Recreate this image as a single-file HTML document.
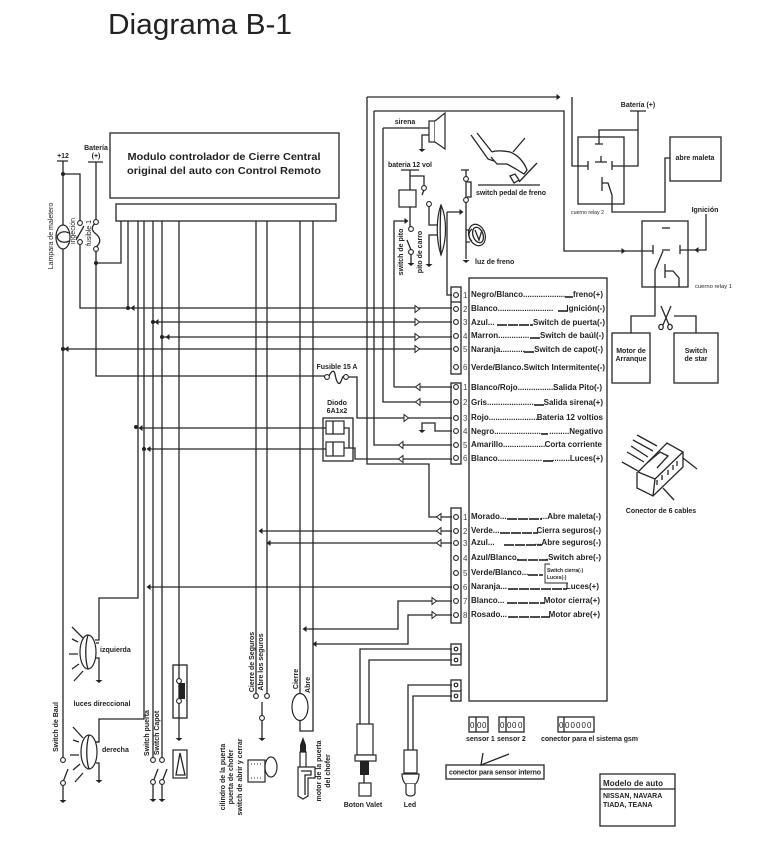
<!DOCTYPE html>
<html><head><meta charset="utf-8"><style>
html,body{margin:0;padding:0;background:#fff}
svg{display:block}
text{font-family:"Liberation Sans",sans-serif;fill:#222}
.b{font-weight:bold;font-size:8px}
.m{font-weight:bold;font-size:7px}
.n{font-size:8px;fill:#444}
.e{text-anchor:end}
.c{text-anchor:middle}
.w{fill:none;stroke:#262626;stroke-width:1.3}
.d{fill:none;stroke:#111;stroke-width:1.6;stroke-dasharray:10 1}
.p{fill:#fff;stroke:#262626;stroke-width:1.2}
.f{fill:#222;stroke:none}
</style></head><body>
<svg width="766" height="857" viewBox="0 0 766 857" xmlns="http://www.w3.org/2000/svg">
<defs>
<path id="ar" d="M-2,-3.5 L2.5,0 L-2,3.5 Z" fill="#fff" stroke="#262626" stroke-width="1"/>
<path id="al" d="M2,-3.5 L-2.5,0 L2,3.5 Z" fill="#fff" stroke="#262626" stroke-width="1"/>
<path id="sl" d="M-2.5,0 L1.5,-3 L1.5,3 Z" fill="#222"/>
<path id="sr" d="M2.5,0 L-1.5,-3 L-1.5,3 Z" fill="#222"/>
<path id="g" d="M-3.5,0 L3.5,0 L0,3 Z" fill="#222"/>
<circle id="o" r="2.4" fill="#fff" stroke="#262626" stroke-width="1.1"/>
<circle id="k" r="2" fill="#222"/>
</defs>
<text x="108" y="34" style="font-size:29px;fill:#222" textLength="184" lengthAdjust="spacingAndGlyphs">Diagrama B-1</text>

<!-- module -->
<rect x="110" y="133" width="229" height="65" class="w"/>
<rect x="116" y="204" width="220" height="17" class="w"/>
<text x="224" y="160" class="c" style="font-weight:bold;font-size:10px" textLength="193" lengthAdjust="spacingAndGlyphs">Modulo controlador de Cierre Central</text>
<text x="224" y="174" class="c" style="font-weight:bold;font-size:10px" textLength="194" lengthAdjust="spacingAndGlyphs">original del auto con Control Remoto</text>

<!-- left wires -->
<g class="w">
<path d="M57,161H68M63,161V760"/>
<path d="M63,174H80V221M80,244V308H452"/>
<path d="M76,240L84,226"/>
<path d="M88,162H103M96,162V220"/>
<path d="M96,222C91,227 91,230 96,234C101,238 101,243 96,247"/>
<path d="M96,251V376H325"/>
<path d="M121,221V263H96"/>
<path d="M128,221V308"/>
<path d="M138,221V598H99V640H95"/>
<path d="M144,221V719H99V742H95"/>
<path d="M153,221V758M162,221V758"/>
<path d="M153,322H452M162,337H452M63,349H452"/>
<path d="M179,221V738"/>
<path d="M256,221V694M267,221V694"/>
<path d="M300,221V693M313,221V731H300V720"/>
<path d="M141,428H326M149,449H326"/>
</g>
<use href="#k" x="128" y="308"/><use href="#sl" x="133" y="308"/>
<use href="#k" x="153" y="322"/><use href="#sl" x="157" y="322"/>
<use href="#k" x="162" y="337"/><use href="#sl" x="168" y="337"/>
<use href="#k" x="63" y="349"/><use href="#sl" x="67" y="349"/>
<use href="#k" x="136" y="427"/><use href="#sl" x="141" y="428"/>
<use href="#k" x="144" y="449"/><use href="#sl" x="149" y="449"/>
<use href="#k" x="63" y="174"/><use href="#k" x="96" y="263"/>
<use href="#o" x="80" y="223"/><use href="#o" x="80" y="242"/>
<use href="#o" x="96" y="222"/><use href="#o" x="96" y="249"/>
<ellipse cx="63" cy="237" rx="7" ry="12" class="p"/>
<path d="M57,237C59,231 65,231 69,233M57,237C59,243 65,243 69,241" class="w"/>
<text x="63" y="158" class="m c">+12</text>
<text x="96" y="150" class="m c">Batería</text>
<text x="96" y="158" class="m c">(+)</text>
<text transform="translate(53,236) rotate(-90)" class="c" style="font-size:7px">Lampara de maletero</text>
<text transform="translate(75,231) rotate(-90)" class="c" style="font-size:7px">ingeción</text>
<text transform="translate(91,233) rotate(-90)" class="c" style="font-size:7px">fusible 1</text>

<!-- lens bottom left -->
<g class="w">
<path d="M96,643H99M95,658H99V680"/>
<path d="M72,627L83,638M72,639L78,642M69,654L78,654M72,669L79,664M74,681L83,671"/>
<path d="M95,742H99M96,763H99V780"/>
<path d="M73,727L83,738M73,740L79,742M70,755L79,755M73,770L80,764M75,782L83,773"/>
<path d="M68,769L63,782M63,784V800"/>
<path d="M158,769L153,782M153,784V799M167,769L162,782M162,784V799"/>
<path d="M262,702V738"/>
</g>
<ellipse cx="88" cy="652" rx="8" ry="17" class="p"/><path d="M88,635C85,645 85,660 88,669" class="w"/>
<ellipse cx="89" cy="752" rx="8" ry="17" class="p"/><path d="M89,735C86,745 86,760 89,769" class="w"/>
<use href="#g" x="99" y="680"/><use href="#g" x="99" y="780"/>
<use href="#g" x="63" y="800"/><use href="#g" x="153" y="799"/><use href="#g" x="162" y="799"/>
<use href="#g" x="179" y="738"/><use href="#g" x="262" y="738"/>
<use href="#o" x="63" y="760"/><use href="#o" x="63" y="783"/>
<use href="#o" x="153" y="760"/><use href="#o" x="153" y="782"/>
<use href="#o" x="162" y="760"/><use href="#o" x="162" y="782"/>
<use href="#o" x="256" y="696"/><use href="#o" x="267" y="696"/><use href="#o" x="262" y="718"/>
<text x="100" y="652" class="m">izquierda</text>
<text x="102" y="752" class="m">derecha</text>
<text x="102" y="706" class="m c">luces direccional</text>
<text transform="translate(58,727) rotate(-90)" class="m c">Switch de Baul</text>
<text transform="translate(149,733) rotate(-90)" class="m c">Switch puerta</text>
<text transform="translate(159,733) rotate(-90)" class="m c">Switch Capot</text>
<text transform="translate(254,662) rotate(-90)" class="m c">Cierre de Seguros</text>
<text transform="translate(263,662) rotate(-90)" class="m c">Abre los seguros</text>
<text transform="translate(298,679) rotate(-90)" class="m c">Cierre</text>
<text transform="translate(310,685) rotate(-90)" class="m c">Abre</text>
<ellipse cx="300" cy="707" rx="8" ry="13.5" class="p"/>

<!-- fuse box -->
<rect x="173" y="665" width="14" height="53" class="w"/>
<rect x="179" y="683" width="6" height="16" class="f"/>
<use href="#o" x="179" y="681"/><use href="#o" x="179" y="701"/>
<rect x="173" y="750" width="14" height="28" class="p"/>
<path d="M180,753L176,775H185Z" class="w"/>

<!-- cylinder + motor -->
<rect x="248" y="760" width="17" height="22" class="p"/>
<rect x="265" y="763" width="3" height="9" class="p"/>
<ellipse cx="271" cy="767" rx="6" ry="10" class="p"/>
<path d="M251,764H262M251,778H262" class="w" style="stroke-dasharray:1 2;stroke-width:1"/>
<path d="M303,737L306,745V752H300V745Z" class="f"/>
<path d="M300,752H306V767H300ZM298,767H315V778H308V796L303,799L298,796Z" class="p"/>
<path d="M301,771H311V775H305V795" class="w"/>
<text transform="translate(225,777) rotate(-90)" class="m c">cilindro de la puerta</text>
<text transform="translate(233,777) rotate(-90)" class="m c">puerta de chofer</text>
<text transform="translate(242,777) rotate(-90)" class="m c">switch de abrir y cerrar</text>
<text transform="translate(321,771) rotate(-90)" class="m c">motor de la puerta</text>
<text transform="translate(330,771) rotate(-90)" class="m c">del chofer</text>

<!-- long wires center -->
<g class="w">
<path d="M367,97H558M572,97V166H588"/>
<path d="M374,111H564V251H653"/>
<path d="M367,97V464H429V517H452"/>
<path d="M374,111V445H452"/>
<path d="M383,128V402H452M383,128H429"/>
<path d="M394,387V221H406M394,387H452"/>
<path d="M349,377H357V418H452"/>
<path d="M452,431H435V423H422V430"/>
<path d="M344,428H349V448M344,448H355V459H452"/>
<path d="M447,212V295H452M447,212H460"/>
<path d="M261,531H452M269,543H452M149,587H452"/>
<path d="M305,629H398V601H452M315,644H408V615H452"/>
<path d="M360,724V649H452M369,724V660H452"/>
<path d="M408,750V685H452M413,750V696H452"/>
<path d="M329,376C332,370 334,370 335,374C336,380 338,385 340,383C342,381 342,376 344,376"/>
</g>
<use href="#sr" x="558" y="97"/><use href="#sr" x="623" y="251"/>
<use href="#sr" x="406" y="221"/><use href="#sr" x="461" y="212"/>
<use href="#sl" x="261" y="531"/><use href="#sl" x="269" y="543"/><use href="#sl" x="149" y="587"/>
<use href="#sl" x="305" y="629"/><use href="#sl" x="315" y="644"/>
<use href="#g" x="422" y="430"/>
<use href="#o" x="327" y="377"/><use href="#o" x="346" y="377"/>
<use href="#ar" x="417" y="309"/><use href="#ar" x="417" y="322"/><use href="#ar" x="417" y="337"/><use href="#ar" x="417" y="349"/>
<use href="#al" x="418" y="387"/><use href="#al" x="418" y="402"/><use href="#ar" x="406" y="418"/>
<use href="#al" x="401" y="445"/><use href="#al" x="401" y="459"/>
<use href="#al" x="439" y="517"/><use href="#al" x="439" y="531"/><use href="#al" x="439" y="543"/>
<use href="#ar" x="434" y="601"/><use href="#ar" x="434" y="615"/>
<text x="337" y="369" class="m c">Fusible 15 A</text>
<text x="337" y="405" class="m c">Diodo</text>
<text x="337" y="413" class="m c">6A1x2</text>

<!-- diode -->
<rect x="323" y="418" width="30" height="43" class="w"/>
<rect x="326" y="421" width="18" height="13" class="p"/><path d="M333,421V434" class="w"/>
<rect x="326" y="442" width="18" height="14" class="p"/><path d="M333,442V456" class="w"/>

<!-- speaker etc -->
<rect x="429" y="121" width="6" height="21" class="p"/>
<path d="M435,121L445,113V149L435,142" class="p"/>
<path d="M429,135H422V149" class="w"/><use href="#g" x="422" y="149"/>
<text x="405" y="124" class="m c">sirena</text>
<text x="388" y="167" class="m" textLength="44">bateria 12 vol</text>
<g class="w">
<path d="M401,170H419M410,170V190M410,207V227"/>
<path d="M410,176H424V186"/>
<path d="M424,190L422,195"/>
<path d="M429,206V225H438"/>
<path d="M438,235H429V264"/>
<path d="M407,240L411,250M411,254V263"/>
<path d="M461,170H469M466,170V259"/>
<path d="M467,182H471V197H467"/>
<path d="M478,185H540"/>
<path d="M466,230H470M466,242H470"/>
</g>
<rect x="399" y="190" width="17" height="17" class="p"/>
<use href="#o" x="424" y="188"/><use href="#o" x="429" y="204"/>
<use href="#o" x="411" y="229"/><use href="#o" x="411" y="252"/>
<use href="#o" x="466" y="179"/><use href="#o" x="466" y="200"/>
<use href="#g" x="411" y="263"/><use href="#g" x="429" y="264"/><use href="#g" x="466" y="260"/>
<path d="M441,205C436,218 436,240 441,255C447,240 447,218 441,205Z" class="p"/>
<path d="M441,205C440,220 440,240 441,255" class="w"/>
<ellipse cx="477" cy="235" rx="8" ry="11" transform="rotate(-20 477 235)" class="p"/>
<ellipse cx="478" cy="235" rx="5" ry="8" transform="rotate(-20 478 235)" class="w"/>
<path d="M475,230L479,240L482,230" class="w"/>
<path d="M472,229C468,232 468,238 472,241" class="w"/>
<text transform="translate(403,252) rotate(-90)" class="m c">switch de pito</text>
<text transform="translate(422,252) rotate(-90)" class="m c">pito de carro</text>
<text x="475" y="264" class="m">luz de freno</text>
<text x="476" y="195" class="m" textLength="70">switch pedal de freno</text>
<!-- pedal -->
<g class="w">
<path d="M471,135L488,159L494,161M477,133L492,152"/>
<path d="M492,152C496,150 505,151 510,152C518,155 524,162 527,170L524,174L516,169L507,164L497,164L491,157"/>
<path d="M525,138L513,152M537,163L519,182"/>
<path d="M510,176L515,174L519,180L514,183Z"/>
</g>

<!-- connectors box -->
<rect x="469" y="278" width="138" height="423" class="w"/>
<rect x="451" y="287" width="10" height="87" class="w"/><path d="M451,302H461" class="w"/>
<rect x="451" y="383" width="10" height="81" class="w"/>
<rect x="451" y="508" width="10" height="115" class="w"/>
<rect x="451" y="644" width="10" height="21" class="w"/><path d="M451,654H461" class="w"/>
<rect x="451" y="680" width="10" height="21" class="w"/><path d="M451,691H461" class="w"/>
<g>
<use href="#o" x="456" y="295"/><use href="#o" x="456" y="309"/><use href="#o" x="456" y="322"/><use href="#o" x="456" y="336"/><use href="#o" x="456" y="349"/><use href="#o" x="456" y="367"/>
<use href="#o" x="456" y="387"/><use href="#o" x="456" y="402"/><use href="#o" x="456" y="418"/><use href="#o" x="456" y="431"/><use href="#o" x="456" y="445"/><use href="#o" x="456" y="458"/>
<use href="#o" x="456" y="517"/><use href="#o" x="456" y="531"/><use href="#o" x="456" y="543"/><use href="#o" x="456" y="558"/><use href="#o" x="456" y="573"/><use href="#o" x="456" y="587"/><use href="#o" x="456" y="601"/><use href="#o" x="456" y="615"/>
<circle cx="456" cy="649" r="1.8" fill="#fff" stroke="#222" stroke-width="1.2"/><circle cx="456" cy="660" r="1.8" fill="#fff" stroke="#222" stroke-width="1.2"/><circle cx="456" cy="685" r="1.8" fill="#fff" stroke="#222" stroke-width="1.2"/><circle cx="456" cy="696" r="1.8" fill="#fff" stroke="#222" stroke-width="1.2"/>
</g>
<g class="n">
<text x="463" y="298" class="n">1</text><text x="463" y="312" class="n">2</text><text x="463" y="325" class="n">3</text><text x="463" y="339" class="n">4</text><text x="463" y="352" class="n">5</text><text x="463" y="370" class="n">6</text>
<text x="463" y="390" class="n">1</text><text x="463" y="405" class="n">2</text><text x="463" y="421" class="n">3</text><text x="463" y="434" class="n">4</text><text x="463" y="448" class="n">5</text><text x="463" y="461" class="n">6</text>
<text x="463" y="520" class="n">1</text><text x="463" y="534" class="n">2</text><text x="463" y="546" class="n">3</text><text x="463" y="561" class="n">4</text><text x="463" y="576" class="n">5</text><text x="463" y="590" class="n">6</text><text x="463" y="604" class="n">7</text><text x="463" y="618" class="n">8</text>
</g>
<g>
<text class="b" x="471" y="297">Negro/Blanco...................</text><text x="603" y="297" class="b e">freno(+)</text>
<text class="b" x="471" y="311">Blanco.........................</text><text x="605" y="311" class="b e">Ignición(-)</text>
<text class="b" x="471" y="325">Azul...</text><text x="605" y="325" class="b e">Switch de puerta(-)</text>
<text class="b" x="471" y="338">Marron..............</text><text x="604" y="338" class="b e">Switch de baúl(-)</text>
<text class="b" x="471" y="352">Naranja...........</text><text x="603" y="352" class="b e">Switch de capot(-)</text>
<text class="b" x="471" y="370" textLength="134" lengthAdjust="spacingAndGlyphs">Verde/Blanco.Switch Intermitente(-)</text>
<text class="b" x="471" y="390">Blanco/Rojo.................</text><text x="602" y="390" class="b e">Salida Pito(-)</text>
<text class="b" x="471" y="405">Gris.....................</text><text x="603" y="405" class="b e">Salida sirena(+)</text>
<text class="b" x="471" y="420">Rojo.......................</text><text x="603" y="420" class="b e">Bateria 12 voltios</text>
<text class="b" x="471" y="434">Negro.....................</text><text x="603" y="434" class="b e">.........Negativo</text>
<text class="b" x="471" y="447">Amarillo...................</text><text x="602" y="447" class="b e">Corta corriente</text>
<text class="b" x="471" y="461">Blanco....................</text><text x="603" y="461" class="b e">........Luces(+)</text>
<text class="b" x="471" y="519">Morado...</text><text x="601" y="519" class="b e">...Abre maleta(-)</text>
<text class="b" x="471" y="533">Verde...</text><text x="601" y="533" class="b e">Cierra seguros(-)</text>
<text class="b" x="471" y="545">Azul...</text><text x="601" y="545" class="b e">...Abre seguros(-)</text>
<text class="b" x="471" y="560">Azul/Blanco.</text><text x="601" y="560" class="b e">.Switch abre(-)</text>
<text class="b" x="471" y="575">Verde/Blanco...</text>
<text class="b" x="471" y="589">Naranja...</text><text x="599" y="589" class="b e">Luces(+)</text>
<text class="b" x="471" y="603">Blanco...</text><text x="600" y="603" class="b e">Motor cierra(+)</text>
<text class="b" x="471" y="617">Rosado...</text><text x="600" y="617" class="b e">Motor abre(+)</text>
</g>
<path class="d" d="M565,297H573M558,311H568M497,325H533M530,338H541M524,352H535M534,405H544M541,434H548M543,461H553M507,519H542M500,533H538M504,545H542M517,560H548M528,575H543M508,589H567M507,603H545M508,617H550"/>
<path d="M568,583H545V564H550" class="w" style="stroke-width:.9"/>
<text x="547" y="572" style="font-size:5px;font-weight:bold">Switch cierra(-)</text>
<text x="547" y="579" style="font-size:5px;font-weight:bold">Luces(-)</text>

<!-- relay 2 -->
<g class="w">
<rect x="578" y="137" width="46" height="67"/>
<path d="M630,111H646M638,111V166H612M612,161V170M588,161V170"/>
<path d="M638,130H599V144M595,144H603"/>
<path d="M595,162H607M601,156V162"/>
<path d="M602,177V191M602,183H608L612,195V212H665V158H670"/>
<rect x="670" y="137" width="51" height="44"/>
<rect x="642" y="221" width="46" height="66"/>
<path d="M662,228H670"/>
<path d="M653,245V254M680,245V254M680,250H706V214"/>
<path d="M662,250H670M663,251L655,270V316H631V333"/>
<path d="M665,264V278M665,271H673L679,278V287"/>
<path d="M674,316H696V333"/>
<rect x="612" y="333" width="38" height="50"/>
<rect x="674" y="333" width="44" height="50"/>
<path d="M661,306L669,325M671,306L663,325"/>
<ellipse cx="661" cy="327" rx="2.2" ry="2.6"/>
<ellipse cx="670" cy="327" rx="2.2" ry="2.6"/>
</g>
<use href="#sl" x="697" y="250"/>
<text x="638" y="107" class="m c">Batería (+)</text>
<text x="695" y="160" class="m c">abre maleta</text>
<text x="571" y="214" style="font-size:5.5px" textLength="33" lengthAdjust="spacingAndGlyphs">cuerno relay 2</text>
<text x="705" y="212" class="m c">Ignición</text>
<text x="695" y="288" style="font-size:5.5px" textLength="37" lengthAdjust="spacingAndGlyphs">cuerno relay 1</text>
<text x="631" y="353" class="m c">Motor de</text>
<text x="631" y="361" class="m c">Arranque</text>
<text x="696" y="353" class="m c">Switch</text>
<text x="696" y="361" class="m c">de star</text>

<!-- 6 cable connector -->
<g class="w">
<path d="M637,435L657,446M633,440L653,451M631,446L648,457M627,452L644,462M622,462L638,471"/>
<path d="M638,472L667,443L683,452L655,479L638,472"/>
<path d="M637,472L637,488L653,496L683,467V452"/>
<path d="M655,479L653,496"/>
<path d="M647,463L660,452L668,456L657,468"/>
<path d="M683,458L697,469M663,488L674,500"/>
<path d="M657,480V485M662,475V480M668,470V475M673,465V470M677,461V466"/>
</g>
<text x="661" y="513" class="m c">Conector de 6 cables</text>

<!-- bottom devices -->
<rect x="357" y="724" width="16" height="31" class="p"/>
<rect x="355" y="755" width="21" height="6" class="p"/>
<rect x="360" y="761" width="9" height="14" class="f"/>
<path d="M364,775V783" class="w"/>
<rect x="359" y="783" width="12" height="13" class="p"/>
<rect x="404" y="750" width="13" height="23" class="p"/>
<path d="M402,774H419C419,780 416,784 415,784H406C405,784 402,780 402,774Z" class="p"/>
<path d="M406,784V793C406,797 415,797 415,793V784" class="p"/>
<text x="363" y="807" class="m c">Boton Valet</text>
<text x="410" y="807" class="m c">Led</text>

<rect x="469" y="717" width="19" height="15" class="w"/><path d="M476,717V732" class="w"/>
<rect x="499" y="717" width="25" height="15" class="w"/><path d="M506,717V732" class="w"/>
<rect x="558" y="717" width="36" height="15" class="w"/><path d="M564,717V732" class="w"/>
<text x="470" y="728" style="font-size:8px">0</text><text x="477" y="728" style="font-size:8px">0</text><text x="482" y="728" style="font-size:8px">0</text>
<text x="500" y="728" style="font-size:8px">0</text><text x="507" y="728" style="font-size:8px">0</text><text x="512" y="728" style="font-size:8px">0</text><text x="518" y="728" style="font-size:8px">0</text>
<text x="559" y="728" style="font-size:8px">0</text><text x="565" y="728" style="font-size:8px">0</text><text x="570.5" y="728" style="font-size:8px">0</text><text x="576" y="728" style="font-size:8px">0</text><text x="581.5" y="728" style="font-size:8px">0</text><text x="587" y="728" style="font-size:8px">0</text>
<text x="466" y="741" class="m">sensor 1</text>
<text x="497" y="741" class="m">sensor 2</text>
<text x="541" y="741" class="m" textLength="97">conector para el sistema gsm</text>
<rect x="446" y="765" width="98" height="14" class="w"/>
<path d="M483,753L481,765L509,754" class="w"/>
<text x="449" y="774.500" class="m" textLength="92">conector para sensor interno</text>
<rect x="600" y="774" width="75" height="52" class="w"/>
<path d="M600,789H675" class="w"/>
<text x="603" y="786" class="b" textLength="60">Modelo de auto</text>
<text x="603" y="798" class="m">NISSAN, NAVARA</text>
<text x="603" y="807" class="m">TIADA, TEANA</text>
</svg>
</body></html>
